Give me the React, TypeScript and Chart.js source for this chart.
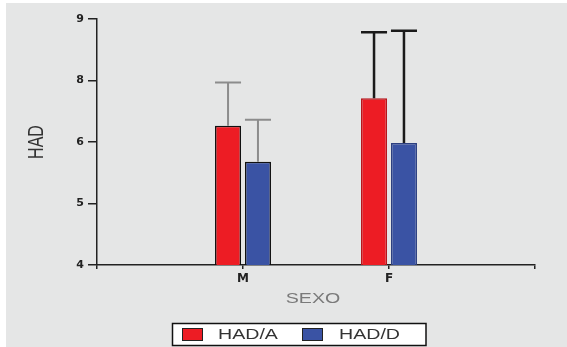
import React, { useEffect, useRef } from 'react';
import { Chart, registerables } from 'chart.js';

Chart.register(...registerables);

const categories = ['', 'M', 'F', ''];
const seriesLabels = ['HAD/A', 'HAD/D'];
const hadA = [null, 6.83, 7.39, null];
const hadD = [null, 6.1, 6.48, null];
const hadAUpper = [null, 7.71, 8.73, null];
const hadDUpper = [null, 6.95, 8.76, null];
const yTickLabels = ['4', '5', '6', '8', '9'];
const xTitle = 'SEXO';
const yTitle = 'HAD';

const RED = '#ed1c24';
const BLUE = '#3a53a4';
const FONT = "'Liberation Sans', Arial, sans-serif";
const TICK_FONT = "'DejaVu Sans', sans-serif";
const STRETCH = 1.4;

function stretchedText(
  ctx: CanvasRenderingContext2D,
  text: string,
  x: number,
  y: number,
  align: CanvasTextAlign,
  rotate = false
) {
  ctx.save();
  ctx.translate(x, y);
  if (rotate) {
    ctx.rotate(-Math.PI / 2);
    ctx.scale(1, STRETCH);
  } else {
    ctx.scale(STRETCH, 1);
  }
  ctx.textAlign = align;
  ctx.textBaseline = 'middle';
  ctx.fillText(text, 0, 0);
  ctx.restore();
}

const backgroundPlugin = {
  id: 'bg',
  beforeDraw(chart: any) {
    const { ctx, width, height } = chart;
    ctx.save();
    ctx.fillStyle = '#ffffff';
    ctx.fillRect(0, 0, width, height);
    ctx.fillStyle = '#e5e6e6';
    ctx.fillRect(6, 3, width - 6, height - 3);
    ctx.restore();
  },
};

const errorBarPlugin = {
  id: 'errbars',
  afterDatasetsDraw(chart: any) {
    const { ctx } = chart;
    const yScale = chart.scales.y;
    const uppers = [hadAUpper, hadDUpper];
    const colors = [null, '#8c8c8c', '#1a1a1a', null];
    const widths = [0, 2, 2.5, 0];
    uppers.forEach((up, di) => {
      const meta = chart.getDatasetMeta(di);
      up.forEach((v, j) => {
        if (v == null) return;
        const bar: any = meta.data[j];
        if (!bar) return;
        const x = bar.x;
        const w = bar.width;
        const yTop = yScale.getPixelForValue(v);
        ctx.save();
        ctx.strokeStyle = colors[j] as string;
        ctx.lineWidth = widths[j];
        ctx.beginPath();
        ctx.moveTo(x, bar.y);
        ctx.lineTo(x, yTop);
        ctx.moveTo(x - w / 2, yTop);
        ctx.lineTo(x + w / 2, yTop);
        ctx.stroke();
        ctx.restore();
      });
    });
  },
};

const textLegendPlugin = {
  id: 'textlegend',
  afterDraw(chart: any) {
    const { ctx, chartArea } = chart;
    ctx.save();
    ctx.fillStyle = '#333333';
    ctx.font = `16px ${FONT}`;
    stretchedText(ctx, yTitle, 37, (chartArea.top + chartArea.bottom) / 2, 'center', true);
    ctx.fillStyle = '#7a7a7a';
    ctx.font = `14px ${FONT}`;
    stretchedText(ctx, xTitle, (chartArea.left + chartArea.right) / 2 - 3, 299, 'center');
    ctx.restore();

    // legend box
    ctx.save();
    ctx.fillStyle = '#ffffff';
    ctx.fillRect(172, 323, 254, 22);
    ctx.strokeStyle = '#111111';
    ctx.lineWidth = 1.5;
    ctx.strokeRect(172.5, 323.5, 253.5, 22);
    const items = [
      { label: chart.data.datasets[0].label, color: RED, bx: 182, tx: 218 },
      { label: chart.data.datasets[1].label, color: BLUE, bx: 302, tx: 339 },
    ];
    items.forEach((it) => {
      ctx.fillStyle = it.color;
      ctx.fillRect(it.bx, 328, 21, 13);
      ctx.strokeStyle = '#222222';
      ctx.lineWidth = 1;
      ctx.strokeRect(it.bx + 0.5, 328.5, 20, 12);
      ctx.fillStyle = '#333333';
      ctx.font = `14px ${FONT}`;
      stretchedText(ctx, it.label, it.tx, 335, 'left');
    });
    ctx.restore();
  },
};

export default function App() {
  const ref = useRef<HTMLCanvasElement>(null);

  useEffect(() => {
    if (!ref.current) return;
    const chart = new Chart(ref.current, {
      type: 'bar',
      data: {
        labels: categories,
        datasets: [
          {
            label: seriesLabels[0],
            data: hadA as any,
            backgroundColor: RED,
            borderColor: ['#000', '#111111', '#b5151b', '#000'],
            borderWidth: 1.5,
            borderSkipped: false,
            categoryPercentage: 0.41,
            barPercentage: 0.87,
          },
          {
            label: seriesLabels[1],
            data: hadD as any,
            backgroundColor: BLUE,
            borderColor: ['#000', '#111111', '#2c3f80', '#000'],
            borderWidth: 1.5,
            borderSkipped: false,
            categoryPercentage: 0.41,
            barPercentage: 0.87,
          },
        ],
      },
      options: {
        responsive: false,
        animation: false,
        devicePixelRatio: 1,
        layout: { padding: { left: 0, right: 32, top: 19, bottom: 38 } },
        plugins: {
          legend: { display: false },
          tooltip: { enabled: false },
          title: { display: false },
        },
        scales: {
          x: {
            type: 'category',
            offset: false,
            grid: {
              offset: false,
              drawOnChartArea: false,
              drawTicks: true,
              tickLength: 4,
              color: '#222',
              lineWidth: 1.5,
            },
            border: { color: '#222', width: 1.5 },
            ticks: {
              color: '#222',
              font: { family: TICK_FONT, size: 12, weight: 'bold' },
              padding: 3,
              autoSkip: false,
              maxRotation: 0,
            },
            afterFit(scale: any) {
              scale.height = 44;
            },
          },
          y: {
            type: 'linear',
            min: 4,
            max: 9,
            grid: {
              drawOnChartArea: false,
              drawTicks: true,
              tickLength: 9,
              color: '#222',
              lineWidth: 1.5,
            },
            border: { color: '#222', width: 1.5 },
            ticks: {
              stepSize: 1.25,
              color: '#222',
              font: { family: TICK_FONT, size: 11, weight: 'bold' },
              padding: 4,
              callback: (_v: any, i: number) => yTickLabels[i] ?? '',
            },
            afterFit(scale: any) {
              scale.width = 97;
            },
          },
        },
      },
      plugins: [backgroundPlugin, errorBarPlugin, textLegendPlugin],
    });
    return () => chart.destroy();
  }, []);

  return (
    <div style={{ position: 'fixed', left: 0, top: 0, width: 567, height: 347 }}>
      <canvas ref={ref} width={567} height={347} style={{ display: 'block' }} />
    </div>
  );
}
